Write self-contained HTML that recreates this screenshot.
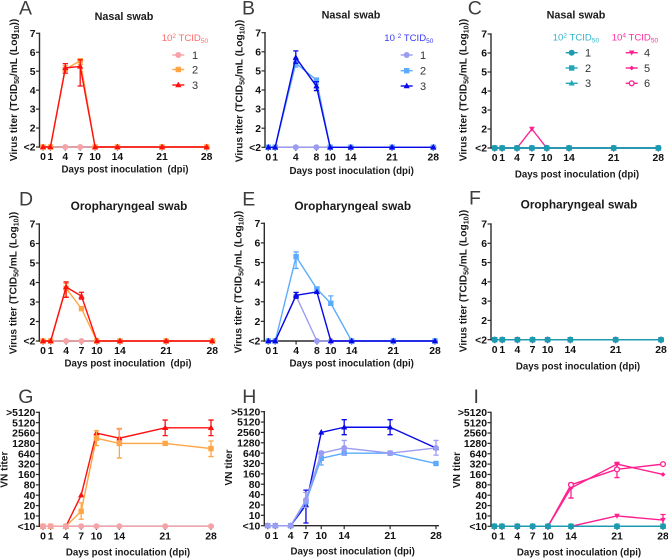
<!DOCTYPE html>
<html>
<head>
<meta charset="utf-8">
<style>
html,body{margin:0;padding:0;background:#fff;}
svg{display:block;font-family:"Liberation Sans",Arial,sans-serif;}
.letter{font-size:19.5px;fill:#3d3d3d;}
.title{font-weight:bold;fill:#1a1a1a;text-anchor:middle;}
.axt{font-weight:bold;font-size:9.7px;fill:#1a1a1a;text-anchor:middle;}
.ayt{font-weight:bold;font-size:10.2px;fill:#1a1a1a;text-anchor:middle;}
.leg{font-size:9.6px;}
.legn{font-size:11px;fill:#333;}
.tk{font-weight:bold;font-size:10.4px;fill:#111;}
</style>
</head>
<body>
<svg id="fig" xmlns="http://www.w3.org/2000/svg" width="668" height="558" viewBox="0 0 668 558">
<text class="letter" x="19" y="14.7">A</text>
<text class="letter" x="242" y="14.7">B</text>
<text class="letter" x="467.7" y="14.7">C</text>
<text class="letter" x="19" y="205.3">D</text>
<text class="letter" x="242.3" y="205.3">E</text>
<text class="letter" x="469" y="204.7">F</text>
<text class="letter" x="18.3" y="403">G</text>
<text class="letter" x="242.3" y="403">H</text>
<text class="letter" x="473.5" y="403">I</text>

<text class="title" x="124" y="20" font-size="10.8">Nasal swab</text>
<text class="title" x="351" y="18.6" font-size="10.8">Nasal swab</text>
<text class="title" x="576" y="18.7" font-size="10.8">Nasal swab</text>
<text class="title" x="129" y="210" font-size="11.8">Oropharyngeal swab</text>
<text class="title" x="352.7" y="210" font-size="11.8">Oropharyngeal swab</text>
<text class="title" x="579" y="208.3" font-size="11.8">Oropharyngeal swab</text>

<text class="axt" x="125" y="172.7" xml:space="preserve">Days post inoculation  (dpi)</text>
<text class="axt" x="351.7" y="174">Days post inoculation (dpi)</text>
<text class="axt" x="577" y="177.7">Days post inoculation (dpi)</text>
<text class="axt" x="128" y="366.7" xml:space="preserve">Days post inoculation  (dpi)</text>
<text class="axt" x="351.7" y="366.7">Days post inoculation (dpi)</text>
<text class="axt" x="578" y="369.5">Days post inoculation (dpi)</text>
<text class="axt" x="128" y="555.7">Days post inoculation (dpi)</text>
<text class="axt" x="352.7" y="554.7">Days post inoculation (dpi)</text>
<text class="axt" x="579" y="555.7">Days post inoculation (dpi)</text>

<text class="ayt" transform="translate(17,90) rotate(-90)">Virus titer (TCID<tspan dy="2" font-size="7">50</tspan><tspan dy="-2">/mL (Log</tspan><tspan dy="2" font-size="7">10</tspan><tspan dy="-2">))</tspan></text>
<text class="ayt" transform="translate(242.3,91) rotate(-90)">Virus titer (TCID<tspan dy="2" font-size="7">50</tspan><tspan dy="-2">/mL (Log</tspan><tspan dy="2" font-size="7">10</tspan><tspan dy="-2">))</tspan></text>
<text class="ayt" transform="translate(466.7,90) rotate(-90)">Virus titer (TCID<tspan dy="2" font-size="7">50</tspan><tspan dy="-2">/mL (Log</tspan><tspan dy="2" font-size="7">10</tspan><tspan dy="-2">))</tspan></text>
<text class="ayt" transform="translate(16.7,283) rotate(-90)">Virus titer (TCID<tspan dy="2" font-size="7">50</tspan><tspan dy="-2">/mL (Log</tspan><tspan dy="2" font-size="7">10</tspan><tspan dy="-2">))</tspan></text>
<text class="ayt" transform="translate(241.7,282) rotate(-90)">Virus titer (TCID<tspan dy="2" font-size="7">50</tspan><tspan dy="-2">/mL (Log</tspan><tspan dy="2" font-size="7">10</tspan><tspan dy="-2">))</tspan></text>
<text class="ayt" transform="translate(466.7,281) rotate(-90)">Virus titer (TCID<tspan dy="2" font-size="7">50</tspan><tspan dy="-2">/mL (Log</tspan><tspan dy="2" font-size="7">10</tspan><tspan dy="-2">))</tspan></text>
<text class="ayt" transform="translate(7.5,469.7) rotate(-90)">VN titer</text>
<text class="ayt" transform="translate(232,467.5) rotate(-90)">VN titer</text>
<text class="ayt" transform="translate(460,470) rotate(-90)">VN titer</text>

<text class="leg" x="161.7" y="41" fill="#ff6b6b">10<tspan dy="-3" font-size="6.5">2</tspan><tspan dy="3"> TCID</tspan><tspan dy="2" font-size="6.5">50</tspan></text>
<text class="leg" x="384.3" y="41" fill="#3a3af5">10 <tspan dy="-3" font-size="6.5">2</tspan><tspan dy="3"> TCID</tspan><tspan dy="2" font-size="6.5">50</tspan></text>
<text class="leg" x="552.7" y="40.7" fill="#35b4cc">10<tspan dy="-3" font-size="6.5">2</tspan><tspan dy="3"> TCID</tspan><tspan dy="2" font-size="6.5">50</tspan></text>
<text class="leg" x="611.7" y="40.7" fill="#ff2e9f">10<tspan dy="-3" font-size="6.5">4</tspan><tspan dy="3"> TCID</tspan><tspan dy="2" font-size="6.5">50</tspan></text>
<g id="plots"></g>
</svg>
<script>
// Sampling days and tick labels
const daysStd = [0, 1, 4, 7, 10, 14, 21, 28];
const daysAlt = [0, 1, 4, 8, 10, 14, 21, 28];
const titerTicks = [1, 2, 3, 4, 5, 6, 7];
const titerLabels = ['<2', '2', '3', '4', '5', '6', '7'];
const vnTicks = [5, 10, 20, 40, 80, 160, 320, 640, 1280, 2560, 5120, 10240];
const vnLabels = ['<10', '10', '20', '40', '80', '160', '320', '640', '1280', '2560', '5120', '>5120'];
// The "<2" floor is stored as 1; the "<10" floor as 5; ">5120" as 10240.
const nasalFloor = [1, 1, 1, 1, 1, 1, 1, 1];
const vnFloor = [5, 5, 5, 5, 5, 5, 5, 5];

// Panel A
const aS2 = [1, 1, 5.1, 5.55, 1, 1, 1, 1];
const aS2Lo = [null, null, 4.9, 5.35, null, null, null, null];
const aS2Hi = [null, null, 5.3, 5.65, null, null, null, null];
const aS3 = [1, 1, 5.17, 5.25, 1, 1, 1, 1];
const aS3Lo = [null, null, 4.9, 4.22, null, null, null, null];
const aS3Hi = [null, null, 5.4, 5.6, null, null, null, null];
// Panel B
const bS2 = [1, 1, 5.4, 4.52, 1, 1, 1, 1];
const bS2Lo = [null, null, 5.2, 4.3, null, null, null, null];
const bS2Hi = [null, null, 5.6, 4.6, null, null, null, null];
const bS3 = [1, 1, 5.7, 4.2, 1, 1, 1, 1];
const bS3Lo = [null, null, 5.4, 3.97, null, null, null, null];
const bS3Hi = [null, null, 6.05, 4.43, null, null, null, null];
// Panel C
const cS4 = [1, 1, 1, 2, 1, 1, 1, 1];
// Panel D
const dS2 = [1, 1, 3.7, 2.66, 1, 1, 1, 1];
const dS2Lo = [null, null, 3.25, null, null, null, null, null];
const dS2Hi = [null, null, 3.95, null, null, null, null, null];
const dS3 = [1, 1, 3.77, 3.3, 1, 1, 1, 1];
const dS3Lo = [null, null, 3.24, 3.15, null, null, null, null];
const dS3Hi = [null, null, 4.03, 3.5, null, null, null, null];
// Panel E
const eS1 = [1, 1, 3.3, 1, 1, 1, 1, 1];
const eS2 = [1, 1, 5.3, 3.65, 2.92, 1, 1, 1];
const eS2Lo = [null, null, 4.7, 3.55, 2.85, null, null, null];
const eS2Hi = [null, null, 5.54, 3.75, 3.3, null, null, null];
const eS3 = [1, 1, 3.33, 3.5, 1, 1, 1, 1];
const eS3Lo = [null, null, 3.18, null, null, null, null, null];
const eS3Hi = [null, null, 3.48, null, null, null, null, null];
// Panel G
const gS2 = [5, 5, 5, 13.7, 1810, 1280, 1280, 905];
const gS2Lo = [null, null, null, 8, 1100, 480, null, 530];
const gS2Hi = [null, null, null, 24, 3000, 3500, null, 1500];
const gS3 = [5, 5, 5, 40, 2560, 1810, 3620, 3620];
const gS3Lo = [null, null, null, null, null, 1280, 2150, 2150];
const gS3Hi = [null, null, null, null, null, 3400, 6100, 6100];
// Panel H
const hS1 = [5, 5, 5, 28, 640, 905, 640, 905];
const hS1Lo = [null, null, null, 17, null, 560, null, 560];
const hS1Hi = [null, null, null, 46, null, 1500, null, 1500];
const hS2 = [5, 5, 5, 25, 452, 640, 640, 320];
const hS2Lo = [null, null, null, null, 290, null, null, null];
const hS2Hi = [null, null, null, null, 720, null, null, null];
const hS3 = [5, 5, 5, 20, 2560, 3620, 3620, 905];
const hS3Lo = [null, null, null, 6, null, 2200, 2200, null];
const hS3Hi = [null, null, null, 54, null, 6000, 6000, null];
// Panel I
const iS4 = [5, 5, 5, 5, 5, 5, 10, 7.6];
const iS4Lo = [null, null, null, null, null, null, null, 5];
const iS4Hi = [null, null, null, null, null, null, null, 11];
const iS5 = [5, 5, 5, 5, 5, 65, 320, 160];
const iS5Lo = [null, null, null, null, null, 33, 240, null];
const iS5Hi = [null, null, null, null, null, 90, 360, null];
const iS6 = [5, 5, 5, 5, 5, 80, 226, 320];
const iS6Lo = [null, null, null, null, null, null, 130, null];
const iS6Hi = [null, null, null, null, null, null, 340, null];

const NS = 'http://www.w3.org/2000/svg';
const root = document.getElementById('plots');
const PEACH = '#f5a3a8', ORANGE = '#ffa544', RED = '#ff0f0f';
const LILAC = '#9c9cf2', SKY = '#5cabff', BLUE = '#0808e8';
const TEAL = '#1c9bb0', TEAL2 = '#22a6b8', PINK = '#ff1f8f';

// Evenly-spaced category slots used by the two kinds of time axis
const slotsStd = [0, 1, 3, 5, 7, 10, 16, 22];
const slotsAlt = [0, 1, 4, 7, 9, 12, 18, 24];

function mk(parent, tag, attrs) {
  const e = document.createElementNS(NS, tag);
  for (const k in attrs) e.setAttribute(k, attrs[k]);
  parent.appendChild(e);
  return e;
}

function s(name, color, shape, vals, lo, hi) {
  return { name: name, color: color, shape: shape, vals: vals, lo: lo || null, hi: hi || null };
}

function drawMarker(g, shape, cx, cy, color) {
  let m;
  if (shape === 'circle') {
    m = mk(g, 'circle', { cx: cx, cy: cy, r: 3, fill: color });
  } else if (shape === 'open') {
    m = mk(g, 'circle', { cx: cx, cy: cy, r: 2.4, fill: '#fff', stroke: color, 'stroke-width': 1.3 });
  } else if (shape === 'square') {
    m = mk(g, 'rect', { x: cx - 2.7, y: cy - 2.7, width: 5.4, height: 5.4, fill: color });
  } else if (shape === 'up') {
    m = mk(g, 'path', { d: 'M' + cx + ' ' + (cy - 3.4) + 'L' + (cx + 3.1) + ' ' + (cy + 2.2) + 'L' + (cx - 3.1) + ' ' + (cy + 2.2) + 'Z', fill: color });
  } else if (shape === 'down') {
    m = mk(g, 'path', { d: 'M' + cx + ' ' + (cy + 2.8) + 'L' + (cx + 2.8) + ' ' + (cy - 2.2) + 'L' + (cx - 2.8) + ' ' + (cy - 2.2) + 'Z', fill: color });
  } else {
    m = mk(g, 'path', { d: 'M' + cx + ' ' + (cy - 2.4) + 'L' + (cx + 2.4) + ' ' + cy + 'L' + cx + ' ' + (cy + 2.4) + 'L' + (cx - 2.4) + ' ' + cy + 'Z', fill: color });
  }
  return m;
}

function drawPanel(p) {
  const g = mk(root, 'g', {});
  
  

  const total = p.slots[p.slots.length - 1];
  const xAt = function (i) { return p.x0 + (p.x1 - p.x0) * p.slots[i] / total; };
  const yAt = p.logScale
    ? function (v) { return p.yB + (p.yT - p.yB) * (Math.log2(v / 5) / 11); }
    : function (v) { return p.yB + (p.yT - p.yB) * ((v - 1) / 6); };

  // axes
  const yAxis = mk(g, 'line', { x1: p.ax, x2: p.ax, y1: p.yT - 0.7, y2: p.yB + 0.7, stroke: '#2b2b2b', 'stroke-width': 1.4 });
  
  
  const xAxis = mk(g, 'line', { x1: p.ax, x2: p.x1 + 3, y1: p.yB, y2: p.yB, stroke: '#2b2b2b', 'stroke-width': 1.4 });
  
  

  p.yTicks.forEach(function (t, i) {
    const y = yAt(t);
    mk(g, 'line', { x1: p.ax - 3.5, x2: p.ax, y1: y, y2: y, stroke: '#2b2b2b', 'stroke-width': 1.2 });
    const lab = mk(g, 'text', { x: p.ax - 4, y: y + 3.6, 'text-anchor': 'end', 'class': 'tk' });
    
    
    lab.textContent = p.yLabels[i];
  });
  p.days.forEach(function (d, i) {
    const x = xAt(i);
    mk(g, 'line', { x1: x, x2: x, y1: p.yB, y2: p.yB + 3.5, stroke: '#2b2b2b', 'stroke-width': 1.2 });
    const lab = mk(g, 'text', { x: x, y: p.yB + 13.2, 'text-anchor': 'middle', 'class': 'tk' });
    
    
    lab.textContent = String(d);
  });

  // series
  p.series.forEach(function (se) {
    const sg = mk(g, 'g', {});
    
    
    const pts = se.vals.map(function (v, i) { return xAt(i).toFixed(2) + ',' + yAt(v).toFixed(2); }).join(' ');
    const line = mk(sg, 'polyline', { points: pts, fill: 'none', stroke: se.color, 'stroke-width': 1.4, 'stroke-linejoin': 'round' });
    
    
    se.vals.forEach(function (v, i) {
      const x = xAt(i);
      if (se.lo && se.lo[i] !== null) {
        const yl = yAt(se.lo[i]), yh = yAt(se.hi[i]);
        const eb = mk(sg, 'path', { d: 'M' + x + ' ' + yl + 'V' + yh + 'M' + (x - 2.6) + ' ' + yl + 'H' + (x + 2.6) + 'M' + (x - 2.6) + ' ' + yh + 'H' + (x + 2.6), fill: 'none', stroke: se.color, 'stroke-width': 1.3 });
        
        
      }
      const m = drawMarker(sg, se.shape, x, yAt(v), se.color);
      
      
    });
  });
}

function legendRow(id, cx, y, lx, color, shape, label) {
  const g = mk(root, 'g', {});
  
  
  mk(g, 'line', { x1: cx - 6, x2: cx + 6, y1: y, y2: y, stroke: color, 'stroke-width': 1.4 });
  drawMarker(g, shape, cx, y, color);
  const t = mk(g, 'text', { x: lx, y: y + 3.8, 'class': 'legn' });
  t.textContent = label;
}

const viral = { yTicks: titerTicks, yLabels: titerLabels, logScale: false };
const vn = { yTicks: vnTicks, yLabels: vnLabels, logScale: true };

const panels = [
  Object.assign({ id: 'a', days: daysStd, slots: slotsStd, x0: 43, x1: 206.7, yT: 33.3, yB: 147, ax: 39.5, series: [
    s('1', PEACH, 'circle', nasalFloor), s('2', ORANGE, 'square', aS2, aS2Lo, aS2Hi), s('3', RED, 'up', aS3, aS3Lo, aS3Hi)] }, viral),
  Object.assign({ id: 'b', days: daysAlt, slots: slotsAlt, x0: 268.3, x1: 433.3, yT: 32.7, yB: 147.3, ax: 265, series: [
    s('1', LILAC, 'circle', nasalFloor), s('2', SKY, 'square', bS2, bS2Lo, bS2Hi), s('3', BLUE, 'up', bS3, bS3Lo, bS3Hi)] }, viral),
  Object.assign({ id: 'c', days: daysStd, slots: slotsStd, x0: 494.7, x1: 658.3, yT: 34, yB: 148, ax: 491, series: [
    s('4', PINK, 'down', cS4), s('5', PINK, 'diamond', nasalFloor), s('6', PINK, 'open', nasalFloor),
    s('3', TEAL2, 'up', nasalFloor), s('2', TEAL2, 'square', nasalFloor), s('1', TEAL, 'circle', nasalFloor)] }, viral),
  Object.assign({ id: 'd', days: daysStd, slots: slotsStd, x0: 43, x1: 212.3, yT: 224, yB: 341, ax: 39.3, series: [
    s('1', PEACH, 'circle', nasalFloor), s('2', ORANGE, 'square', dS2, dS2Lo, dS2Hi), s('3', RED, 'up', dS3, dS3Lo, dS3Hi)] }, viral),
  Object.assign({ id: 'e', days: daysAlt, slots: slotsAlt, x0: 268.3, x1: 435, yT: 223.3, yB: 341, ax: 264.3, series: [
    s('1', LILAC, 'circle', eS1), s('2', SKY, 'square', eS2, eS2Lo, eS2Hi), s('3', BLUE, 'up', eS3, eS3Lo, eS3Hi)] }, viral),
  Object.assign({ id: 'f', days: daysStd, slots: slotsStd, x0: 494.7, x1: 661, yT: 224, yB: 339.7, ax: 491, series: [
    s('6', PINK, 'open', nasalFloor), s('5', PINK, 'diamond', nasalFloor), s('4', PINK, 'down', nasalFloor),
    s('3', TEAL2, 'up', nasalFloor), s('2', TEAL2, 'square', nasalFloor), s('1', TEAL, 'circle', nasalFloor)] }, viral),
  Object.assign({ id: 'g', days: daysStd, slots: slotsStd, x0: 43, x1: 211, yT: 412.3, yB: 526.3, ax: 39.3, series: [
    s('3', RED, 'up', gS3, gS3Lo, gS3Hi), s('2', ORANGE, 'square', gS2, gS2Lo, gS2Hi), s('1', PEACH, 'circle', vnFloor)] }, vn),
  Object.assign({ id: 'h', days: daysStd, slots: slotsStd, x0: 267.7, x1: 436, yT: 411.7, yB: 525.7, ax: 264.3, series: [
    s('3', BLUE, 'up', hS3, hS3Lo, hS3Hi), s('2', SKY, 'square', hS2, hS2Lo, hS2Hi), s('1', LILAC, 'circle', hS1, hS1Lo, hS1Hi)] }, vn),
  Object.assign({ id: 'i', days: daysStd, slots: slotsStd, x0: 494.3, x1: 663, yT: 412.3, yB: 526.3, ax: 491, series: [
    s('4', PINK, 'down', iS4, iS4Lo, iS4Hi), s('5', PINK, 'diamond', iS5, iS5Lo, iS5Hi), s('6', PINK, 'open', iS6, iS6Lo, iS6Hi),
    s('3', TEAL2, 'up', vnFloor), s('2', TEAL2, 'square', vnFloor), s('1', TEAL, 'circle', vnFloor)] }, vn)
];
panels.forEach(drawPanel);

legendRow('a', 178.3, 55, 192, PEACH, 'circle', '1');
legendRow('a', 178.3, 69.5, 192, ORANGE, 'square', '2');
legendRow('a', 178.3, 85, 192, RED, 'up', '3');
legendRow('b', 406.7, 55, 420, LILAC, 'circle', '1');
legendRow('b', 406.7, 70.7, 420, SKY, 'square', '2');
legendRow('b', 406.7, 86, 420, BLUE, 'up', '3');
legendRow('c', 571.7, 52.7, 585, TEAL, 'circle', '1');
legendRow('c', 571.7, 68, 585, TEAL2, 'square', '2');
legendRow('c', 571.7, 83.3, 585, TEAL2, 'up', '3');
legendRow('c', 631.7, 52.7, 644, PINK, 'down', '4');
legendRow('c', 631.7, 68, 644, PINK, 'diamond', '5');
legendRow('c', 631.7, 83.3, 644, PINK, 'open', '6');
</script>
</body>
</html>
